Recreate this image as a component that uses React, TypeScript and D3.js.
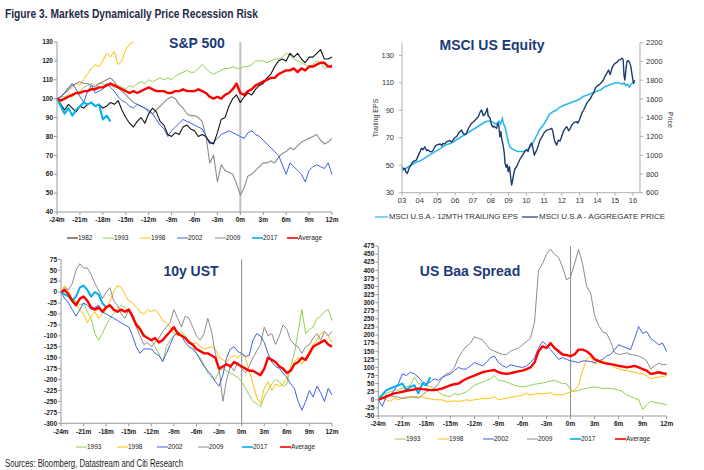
import React from 'react';
import * as d3 from 'd3';

const FONT = "'Liberation Sans', Arial, sans-serif";
const NAVY = '#1c3a78';

// ---------- S&P 500 (index = 100 at -24m), half-month steps from -24m ----------
const sp1982 = [100,97,94,97,95,93,96,95,97,98, 96,97,95,96,98,97,99,94,90,87, 85,88,90,87,92,95,93,88,86,81, 80,82,81,85,86,84,83,80,81,80, 77,76,82,89,90,96,100,102,98,101, 103,102,105,107,108,111,113,117,120,121, 120,124,122,124,121,119,122,122,124,126, 121,121,122];
const sp1993 = [100,101,101,102,101,103,104,106,107,108, 107,108,108,107,107,106,107,106,105,107, 106,108,109,108,110,109,110,111,110,111, 110,112,113,114,115,114,114,116,118,116, 114,113,114,115,116,116,117,116,116,117, 117,118,120,120,120,119,120,121,121,122, 124,123,121,120,119,118,117,118,120,119, 116,117,118];
const sp1998 = [100,101,103,104,106,108,107,110,113,116,118,117,120,124,122,125,118,120,126,129,130];
const sp2002 = [100,101,103,106,108,105,101,98,104,107, 103,104,105,108,106,104,101,99,98,96, 95,97,96,95,94,92,89,86,84,80, 83,85,87,89,88,87,86,85,84,80, 76,77,79,81,82,83,82,81,80,79, 82,83,81,80,78,76,74,72,70,65, 60,66,64,62,60,56,62,64,65,64, 63,66,60];
const sp2009 = [100,101,103,105,107,108,109,108,108,107, 106,108,109,110,111,109,106,104,102,100, 98,97,96,95,93,92,94,96,98,100, 101,100,97,95,92,91,91,90,88,80, 66,70,56,65,62,61,60,55,49,53, 59,60,62,64,66,66,67,66,69,71, 72,74,73,75,77,78,79,80,81,78, 76,77,79];
const sp2017 = [100,96,92,95,91,94,96,98,97,98,96,97,89,91,88];
const spAvg = [100,99,100,101,102,103,103,104,104,105, 105,106,106,107,108,107,106,105,104,103, 104,103,104,105,106,105,104,104,104,103, 103,104,104,105,104,104,104,105,104,103, 101,100,101,100,102,103,105,108,103,102, 104,105,107,108,109,110,111,111,113,114, 115,115,116,114,116,115,117,117,118,119, 119,117,117];
const spYTicks = [40,50,60,70,80,90,100,110,120,130];

// ---------- 10y UST (bp change) ----------
const ust1993 = [0,5,-5,-15,-20,-30,-25,-45,-60,-95, -110,-95,-75,-60,-50,-40,-30,-35,-45,-55, -70,-80,-95,-105,-110,-125,-140,-160,-125,-110, -100,-95,-90,-100,-115,-125,-140,-150,-165,-185, -195,-200,-180,-175,-180,-185,-190,-195,-205,-220, -235,-250,-255,-262,-240,-225,-210,-200,-205,-215, -210,-170,-140,-90,-40,-95,-85,-80,-60,-55, -45,-40,-65];
const ust1998 = [0,15,0,-15,-25,-40,-50,-70,-55,-45, -60,-50,-40,-20,0,15,10,-5,-20,-25, -35,-45,-50,-40,-45,-40,-50,-65,-70,-80, -95,-100,-95,-105,-110,-120,-115,-125,-130,-128, -125,-130,-150,-155,-160,-150,-145,-150,-140,-150, -180,-210,-240,-255,-220,-205,-225,-210,-215,-210, -195,-175,-160,-150,-165,-150,-135,-120,-110,-95, -90,-100,-115];
const ust2002 = [0,-15,-25,-40,-55,-40,-25,-30,-40,-35, -30,-45,-50,-55,-60,-65,-70,-75,-80,-100, -125,-140,-130,-130,-130,-140,-145,-158,-140,-120, -100,-90,-100,-115,-125,-130,-140,-155,-170,-180, -190,-205,-215,-190,-150,-130,-125,-136,-140,-147, -145,-110,-95,-100,-115,-140,-160,-170,-175,-185, -195,-210,-220,-250,-270,-250,-225,-240,-215,-230, -250,-220,-235];
const ust2009 = [0,10,5,20,50,65,55,55,40,20, 5,-15,0,10,-20,-30,-50,-60,-40,-60, -80,-100,-120,-115,-125,-115,-105,-90,-80,-70, -40,-60,-80,-55,-60,-80,-100,-110,-95,-60, -90,-140,-175,-250,-200,-170,-180,-160,-175,-185, -170,-150,-135,-120,-80,-100,-95,-120,-100,-75, -85,-110,-120,-125,-140,-125,-120,-105,-95,-110, -90,-100,-90];
const ust2017 = [0,-5,-10,-20,-10,10,15,5,-10,0,-5,-25,-35];
const ustAvg = [0,5,-5,-20,-30,-15,-10,-20,-35,-40, -35,-45,-35,-30,-40,-45,-40,-45,-40,-55, -75,-85,-100,-105,-110,-105,-115,-110,-100,-90, -80,-95,-100,-105,-115,-120,-130,-135,-140,-140, -145,-150,-175,-170,-165,-170,-160,-165,-170,-175, -180,-180,-185,-190,-175,-150,-155,-160,-170,-175, -185,-180,-165,-160,-150,-155,-140,-125,-120,-115, -110,-120,-125];
const ustYTicks = [-300,-275,-250,-225,-200,-175,-150,-125,-100,-75,-50,-25,0,25,50,75];

// ---------- US Baa spread (bp change) ----------
const baa1993 = [10,15,20,25,30,30,35,40,45,70, 50,48,45,40,35,25,15,12,10,20, 15,20,25,35,45,50,55,60,65,75, 60,58,55,50,45,42,40,42,45,48, 50,52,55,58,60,55,50,50,30,25, 30,33,35,38,40,38,35,36,35,33, 30,25,15,10,5,0,-30,-15,-5,-8, -10,-12,-15];
const baa1998 = [0,5,0,-5,5,0,5,10,5,10, 10,8,5,3,0,0,0,-5,-5,-3, -5,-3,0,-2,0,2,5,3,5,10, 0,3,5,8,10,12,15,20,15,18, 20,18,20,22,15,16,15,20,25,30, 45,90,125,135,110,115,120,115,110,100, 95,92,90,88,85,82,80,75,65,68, 70,72,75];
const baa2002 = [0,-20,10,15,30,50,80,75,85,80, 70,55,50,55,65,60,70,75,80,90, 100,95,95,105,115,110,105,115,130,135, 115,105,100,108,105,102,100,105,115,130, 160,180,170,155,140,125,130,125,120,118, 115,120,120,118,115,120,125,135,140,155, 170,165,160,155,190,226,205,211,190,180, 170,175,149];
const baa2009 = [0,5,15,12,10,8,5,5,10,8, 5,15,25,30,35,50,70,80,85,100, 130,150,165,175,195,190,185,170,155,150, 145,140,140,150,155,160,170,180,190,240, 400,420,450,465,450,440,410,370,380,420, 465,420,350,330,260,230,210,205,180,145, 140,142,145,140,138,135,130,120,95,105, 113,108,110];
const baa2017 = [0,15,30,35,40,45,50,30,40,45,20,50,45,70];
const baaAvg = [0,5,10,15,20,22,25,28,30,32, 35,33,32,30,30,32,35,40,45,48, 50,58,65,70,75,80,85,88,90,92, 85,82,80,82,85,88,90,95,100,115, 150,165,160,175,160,150,140,138,135,140, 155,155,150,140,125,120,115,112,110,108, 105,103,100,102,105,100,95,90,80,82, 85,82,80];
const baaYTicks = [-50,-25,0,25,50,75,100,125,150,175,200,225,250,275,300,325,350,375,400,425,450,475];

const monthTicks = [-24,-21,-18,-15,-12,-9,-6,-3,0,3,6,9,12];

// ---------- MSCI US ----------
const priceYears = [2003.0,2003.08,2003.15,2003.22,2003.3,2003.38,2003.45,2003.53,2003.62,2003.7,2003.81,2003.9,2004.0,2004.09,2004.18,2004.28,2004.38,2004.47,2004.56,2004.66,2004.75,2004.85,2004.94,2005.05,2005.15,2005.25,2005.31,2005.4,2005.5,2005.6,2005.69,2005.8,2005.9,2006.0,2006.07,2006.2,2006.35,2006.45,2006.55,2006.63,2006.75,2006.91,2007.05,2007.15,2007.2,2007.3,2007.4,2007.48,2007.58,2007.67,2007.75,2007.8,2007.85,2007.95,2008.04,2008.12,2008.2,2008.32,2008.4,2008.45,2008.51,2008.57,2008.61,2008.7,2008.76,2008.8,2008.87,2008.92,2008.98,2009.05,2009.12,2009.17,2009.22,2009.27,2009.35,2009.45,2009.55,2009.65,2009.74,2009.85,2009.95,2010.02,2010.1,2010.21,2010.3,2010.39,2010.45,2010.49,2010.6,2010.7,2010.77,2010.9,2011.0,2011.15,2011.3,2011.43,2011.5,2011.56,2011.62,2011.71,2011.8,2011.9,2011.99,2012.1,2012.2,2012.28,2012.38,2012.46,2012.55,2012.7,2012.84,2012.9,2013.0,2013.12,2013.25,2013.4,2013.5,2013.6,2013.7,2013.78,2013.9,2014.0,2014.06,2014.15,2014.25,2014.34,2014.45,2014.55,2014.63,2014.72,2014.82,2014.9,2015.0,2015.1,2015.19,2015.3,2015.38,2015.45,2015.5,2015.55,2015.6,2015.66,2015.73,2015.81,2015.88,2015.94,2016.0,2016.04,2016.1];
const priceValues = [877,850,860,820,806,850,880,905,930,940,948,990,1030,1073,1060,1090,1050,1055,1040,1037,1050,1090,1108,1115,1120,1100,1126,1120,1140,1150,1155,1140,1170,1190,1197,1240,1268,1230,1220,1233,1290,1340,1360,1380,1393,1410,1460,1482,1420,1440,1470,1500,1420,1400,1322,1300,1310,1286,1340,1320,1197,1250,1180,1100,1020,913,870,900,824,880,760,682,720,780,850,877,920,960,984,1020,1050,1055,1040,1108,1130,1060,1000,1020,1060,1120,1162,1200,1240,1268,1275,1286,1250,1180,1140,1108,1160,1150,1200,1260,1290,1304,1260,1280,1320,1350,1357,1340,1380,1446,1490,1553,1580,1600,1640,1660,1720,1740,1748,1760,1780,1802,1850,1880,1908,1860,1926,1960,1980,1990,2015,2020,2033,2020,1850,1802,1900,1997,2010,1990,1950,1873,1800,1766,1800];
const epsYears = [2003.0,2003.25,2003.5,2003.75,2004.0,2004.25,2004.5,2004.75,2005.0,2005.25,2005.5,2005.75,2006.0,2006.25,2006.5,2006.75,2007.0,2007.25,2007.5,2007.75,2008.0,2008.15,2008.3,2008.45,2008.55,2008.65,2008.72,2008.8,2008.9,2009.0,2009.1,2009.2,2009.35,2009.5,2009.7,2009.85,2010.0,2010.2,2010.4,2010.6,2010.75,2011.0,2011.3,2011.5,2011.7,2011.85,2012.0,2012.2,2012.4,2012.6,2012.8,2013.0,2013.2,2013.4,2013.6,2013.8,2014.0,2014.2,2014.4,2014.6,2014.8,2015.0,2015.2,2015.4,2015.5,2015.6,2015.7,2015.8,2015.9,2016.0,2016.1];
const epsValues = [46,48,50,52,53,55,57,59,61,63,65,66,68,70,72,74,76,78,80,82,82,81,80,82,80,84,80,78,72,66,63,62,61,60,60,60,61,63,67,72,76,80,87,89,90,92,93,94,95,96,97,98,100,101,102,103,104,105,107,108,109,110,110,109,110,108,109,107,109,110,111];
const yearTicks = [2003,2004,2005,2006,2007,2008,2009,2010,2011,2012,2013,2014,2015,2016];
const epsTicks = [30,50,70,90,110,130];
const priceTicks = [600,800,1000,1200,1400,1600,1800,2000,2200];

type S = { name: string; data: number[]; color: string; w: number };

const C = {
  y1982: '#111111',
  y1993: '#92d050',
  y1998: '#ffc000',
  y2002: '#3d5fe8',
  y2009: '#8c8c8c',
  y2017: '#00b0f0',
  avg: '#ff0000',
};

function MonthPanel(props: {
  x0: number; x1: number; yBot: number; yTop: number; domain: [number, number];
  yTicks: number[]; series: S[]; legend: S[]; legendX: number[]; legendY: number;
  zeroColor: string; zeroW: number; title: string; titleX: number; titleY: number;
  labelBaseline: number;
}) {
  const x = d3.scaleLinear().domain([-24, 12]).range([props.x0, props.x1]);
  const y = d3.scaleLinear().domain(props.domain).range([props.yBot, props.yTop]);
  const line = d3.line<number>().x((_, i) => x(-24 + i * 0.5)).y((d) => y(d));
  return (
    <g>
      <line x1={x(0)} x2={x(0)} y1={props.yTop} y2={props.yBot} stroke={props.zeroColor} strokeWidth={props.zeroW} />
      {props.series.map((s) => (
        <path key={s.name} d={line(s.data) || ''} fill="none" stroke={s.color} strokeWidth={s.w} strokeLinejoin="round" />
      ))}
      <line x1={props.x0} x2={props.x0} y1={props.yTop} y2={props.yBot} stroke="#9a9a9a" strokeWidth={1} />
      <line x1={props.x0} x2={props.x1} y1={props.yBot} y2={props.yBot} stroke="#9a9a9a" strokeWidth={1} />
      {props.yTicks.map((t) => (
        <g key={t}>
          <line x1={props.x0 - 3} x2={props.x0} y1={y(t)} y2={y(t)} stroke="#9a9a9a" />
          <text x={props.x0 - 4} y={y(t)} dy="0.35em" textAnchor="end" fontSize={6.5} fill="#222" fontWeight="bold">{t}</text>
        </g>
      ))}
      {monthTicks.map((t) => (
        <g key={t}>
          <line x1={x(t)} x2={x(t)} y1={props.yBot} y2={props.yBot + 3} stroke="#9a9a9a" />
          <text x={x(t)} y={props.labelBaseline} textAnchor="middle" fontSize={6.5} fill="#222" fontWeight="bold">{t + 'm'}</text>
        </g>
      ))}
      <text x={props.titleX} y={props.titleY} textAnchor="middle" fontSize={14} fontWeight="bold" fill={NAVY}>{props.title}</text>
      {props.legend.map((s, i) => (
        <g key={s.name}>
          <line x1={props.legendX[i]} x2={props.legendX[i] + 11} y1={props.legendY} y2={props.legendY} stroke={s.color} strokeWidth={s.w > 1.5 ? 1.6 : 1} />
          <text x={props.legendX[i] + 11} y={props.legendY} dy="0.35em" fontSize={6.5} fill="#222">{s.name}</text>
        </g>
      ))}
    </g>
  );
}

function MsciPanel() {
  const x = d3.scaleLinear().domain([2003, 2016.4]).range([402, 640]);
  const yL = d3.scaleLinear().domain([30, 139.2]).range([192.7, 42.7]);
  const yR = d3.scaleLinear().domain([600, 2200]).range([192.7, 42.7]);
  const eps = d3.line<number>().x((_, i) => x(epsYears[i])).y((d) => yL(d));
  const price = d3.line<number>().x((_, i) => x(priceYears[i])).y((d) => yR(d));
  const ax = '#b0b0b0';
  return (
    <g>
      <path d={eps(epsValues) || ''} fill="none" stroke="#2cb8ef" strokeWidth={1.6} />
      <path d={price(priceValues) || ''} fill="none" stroke="#1f3a6e" strokeWidth={1.4} strokeLinejoin="round" />
      <line x1={402} x2={402} y1={42.7} y2={192.7} stroke={ax} />
      <line x1={640} x2={640} y1={42.7} y2={192.7} stroke={ax} />
      <line x1={402} x2={640} y1={192.7} y2={192.7} stroke={ax} />
      {epsTicks.map((t) => (
        <g key={t}>
          <line x1={399} x2={402} y1={yL(t)} y2={yL(t)} stroke={ax} />
          <text x={394} y={yL(t)} dy="0.35em" textAnchor="end" fontSize={7.5} fill="#333">{t}</text>
        </g>
      ))}
      {priceTicks.map((t) => (
        <g key={t}>
          <line x1={640} x2={643} y1={yR(t)} y2={yR(t)} stroke={ax} />
          <text x={646} y={yR(t)} dy="0.35em" textAnchor="start" fontSize={7.5} fill="#333">{t}</text>
        </g>
      ))}
      {yearTicks.map((t) => (
        <g key={t}>
          <line x1={x(t)} x2={x(t)} y1={192.7} y2={195.7} stroke={ax} />
          <text x={x(t)} y={203} textAnchor="middle" fontSize={7.5} fill="#333">{String(t % 100).padStart(2, '0')}</text>
        </g>
      ))}
      <text transform="translate(378,118) rotate(-90)" textAnchor="middle" fontSize={7} fill="#333">Trailing EPS</text>
      <text transform="translate(668,120) rotate(90)" textAnchor="middle" fontSize={7} fill="#333">Price</text>
      <text x={492} y={50} textAnchor="middle" fontSize={14} fontWeight="bold" fill={NAVY}>MSCI US Equity</text>
      <line x1={375} x2={388} y1={217} y2={217} stroke="#2cb8ef" strokeWidth={1.2} />
      <text x={389} y={217} dy="0.35em" fontSize={6.5} fill="#333" textLength={129} lengthAdjust="spacingAndGlyphs">MSCI U.S.A - 12MTH TRAILING EPS</text>
      <line x1={522} x2={538} y1={217} y2={217} stroke="#1f3a6e" strokeWidth={1.2} />
      <text x={539} y={217} dy="0.35em" fontSize={6.5} fill="#333" textLength={126} lengthAdjust="spacingAndGlyphs">MSCI U.S.A - AGGREGATE PRICE</text>
    </g>
  );
}

export default function App() {
  const spSeries: S[] = [
    { name: '1998', data: sp1998, color: C.y1998, w: 1 },
    { name: '1993', data: sp1993, color: C.y1993, w: 1 },
    { name: '2009', data: sp2009, color: C.y2009, w: 1.1 },
    { name: '2002', data: sp2002, color: C.y2002, w: 1 },
    { name: '1982', data: sp1982, color: C.y1982, w: 1.1 },
    { name: '2017', data: sp2017, color: C.y2017, w: 2 },
    { name: 'Average', data: spAvg, color: C.avg, w: 2.4 },
  ];
  const byName = (arr: S[], names: string[]) => names.map((n) => arr.find((s) => s.name === n)!);
  const ustSeries: S[] = [
    { name: '1993', data: ust1993, color: C.y1993, w: 1 },
    { name: '1998', data: ust1998, color: C.y1998, w: 1 },
    { name: '2009', data: ust2009, color: C.y2009, w: 1 },
    { name: '2002', data: ust2002, color: C.y2002, w: 1 },
    { name: '2017', data: ust2017, color: C.y2017, w: 2 },
    { name: 'Average', data: ustAvg, color: C.avg, w: 2.4 },
  ];
  const baaSeries: S[] = [
    { name: '1993', data: baa1993, color: C.y1993, w: 1 },
    { name: '1998', data: baa1998, color: C.y1998, w: 1 },
    { name: '2009', data: baa2009, color: C.y2009, w: 1 },
    { name: '2002', data: baa2002, color: C.y2002, w: 1 },
    { name: '2017', data: baa2017, color: C.y2017, w: 2 },
    { name: 'Average', data: baaAvg, color: C.avg, w: 2.4 },
  ];
  const six = ['1993', '1998', '2002', '2009', '2017', 'Average'];
  return (
    <svg width={704} height={470} style={{ position: 'absolute', left: 0, top: 0, background: '#fff' }} fontFamily={FONT}>
      <rect width={704} height={470} fill="#fff" />
      <text x={5} y={18} fontSize={12.5} fontWeight="bold" fill="#1f2a44" textLength={253} lengthAdjust="spacingAndGlyphs">Figure 3. Markets Dynamically Price Recession Risk</text>
      <MonthPanel x0={57} x1={332} yBot={212} yTop={42} domain={[40, 130]} yTicks={spYTicks}
        series={spSeries} legend={byName(spSeries, ['1982', '1993', '1998', '2002', '2009', '2017', 'Average'])}
        legendX={[67, 103, 140, 177, 215, 252, 287]} legendY={238}
        zeroColor="#c0c0c0" zeroW={2} title="S&P 500" titleX={197} titleY={48} labelBaseline={222} />
      <MsciPanel />
      <MonthPanel x0={61} x1={332} yBot={423.3} yTop={259.3} domain={[-300, 75]} yTicks={ustYTicks}
        series={ustSeries} legend={byName(ustSeries, six)}
        legendX={[76, 117, 157, 198, 242, 280]} legendY={447}
        zeroColor="#8a8a8a" zeroW={1} title="10y UST" titleX={191} titleY={276} labelBaseline={434} />
      <MonthPanel x0={378.3} x1={666.7} yBot={416} yTop={246} domain={[-50, 475]} yTicks={baaYTicks}
        series={baaSeries} legend={byName(baaSeries, six)}
        legendX={[395, 438, 483, 527, 570, 615]} legendY={439}
        zeroColor="#8a8a8a" zeroW={1} title="US Baa Spread" titleX={470} titleY={276} labelBaseline={426} />
      <text x={5} y={467} fontSize={10} fill="#222" textLength={178} lengthAdjust="spacingAndGlyphs">Sources: Bloomberg, Datastream and Citi Research</text>
    </svg>
  );
}
